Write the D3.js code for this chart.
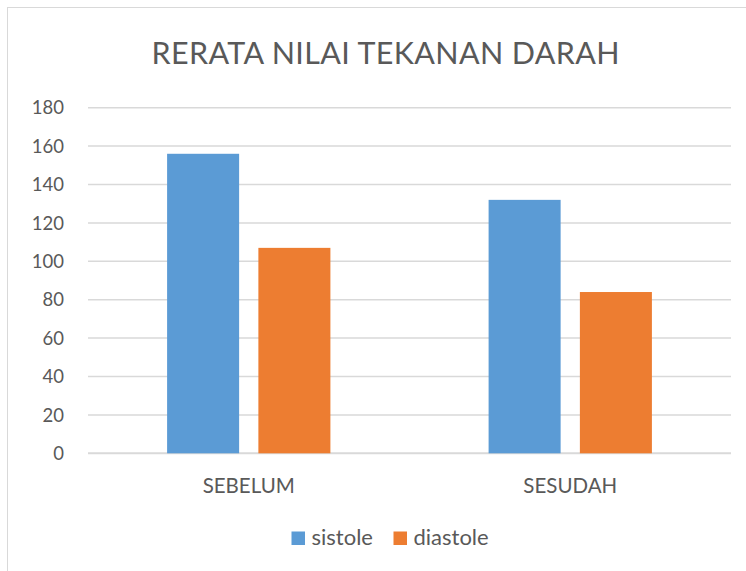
<!DOCTYPE html>
<html><head><meta charset="utf-8">
<script src="https://cdn.jsdelivr.net/npm/d3@7"></script>
<style>html,body{margin:0;padding:0;background:#fff;}svg{display:block;}</style>
</head><body>
<svg id="chart" width="746" height="571"></svg>
<script>
const title = "RERATA NILAI TEKANAN DARAH";
const categories = ["SEBELUM", "SESUDAH"];
const seriesNames = ["sistole", "diastole"];
const sistole = [156, 132];
const diastole = [107, 84];
const yTicks = [0, 20, 40, 60, 80, 100, 120, 140, 160, 180];
const colors = ["#5B9BD5", "#ED7D31"];

(function () {
const svg = d3.select("#chart");
const font = "Lato, 'Open Sans', sans-serif";
const textColor = "#595959";

// chart border (partially cropped)
svg.append("rect").attr("x", 7.5).attr("y", 7.5).attr("width", 900).attr("height", 900)
  .attr("fill", "none").attr("stroke", "#d9d9d9").attr("stroke-width", 1);

const pLeft = 88, pRight = 731, pTop = 107.7, pBottom = 453.3;
const y = d3.scaleLinear().domain([0, 180]).range([pBottom, pTop]);
const x0 = d3.scaleBand().domain(categories).range([pLeft, pRight]).padding(0);
const groupW = 163.3;
const x1 = d3.scaleBand().domain(seriesNames).range([0, groupW]).paddingInner(0.211).paddingOuter(0);

// gridlines
svg.append("g").selectAll("line").data(yTicks).join("line")
  .attr("x1", pLeft).attr("x2", pRight)
  .attr("y1", d => y(d)).attr("y2", d => y(d))
  .attr("stroke", "#d9d9d9").attr("stroke-width", d => d === 0 ? 2 : 1.5);

// y labels
svg.append("g").selectAll("text").data(yTicks).join("text")
  .attr("x", 64).attr("y", d => y(d)).attr("dy", "0.36em")
  .attr("text-anchor", "end").attr("font-family", font).attr("font-size", 18.5)
  .attr("fill", textColor).text(d => d);

// bars
const data = categories.map((c, i) => ({ cat: c, vals: [sistole[i], diastole[i]] }));
const groups = svg.append("g").selectAll("g").data(data).join("g")
  .attr("transform", d => `translate(${x0(d.cat) + (x0.bandwidth() - groupW) / 2},0)`);
groups.selectAll("rect").data(d => d.vals.map((v, j) => ({ name: seriesNames[j], v, j })))
  .join("rect")
  .attr("x", d => x1(d.name)).attr("width", x1.bandwidth())
  .attr("y", d => y(d.v)).attr("height", d => y(0) - y(d.v))
  .attr("fill", d => colors[d.j]);

// x labels
svg.append("g").selectAll("text").data(categories).join("text")
  .attr("x", d => x0(d) + x0.bandwidth() / 2).attr("y", 492.5)
  .attr("text-anchor", "middle").attr("font-family", font).attr("font-size", 20.5)
  .attr("fill", textColor).text(d => d);

// title
svg.append("text").attr("x", 151.5).attr("y", 64).attr("text-anchor", "start")
  .attr("font-family", font).attr("font-size", 30.5).attr("font-weight", 400)
  .attr("textLength", 468).attr("lengthAdjust", "spacing")
  .attr("fill", textColor).text(title);

// legend
const legendX = [291.5, 393.5];
const lg = svg.append("g").selectAll("g").data(seriesNames).join("g")
  .attr("transform", (d, i) => `translate(${legendX[i]},531.5)`);
lg.append("rect").attr("width", 13.5).attr("height", 13.5).attr("fill", (d, i) => colors[i]);
lg.append("text").attr("x", 20).attr("y", 13.7).attr("font-family", font).attr("font-size", 22)
  .attr("fill", textColor).text(d => d);
})();
</script>
</body></html>
